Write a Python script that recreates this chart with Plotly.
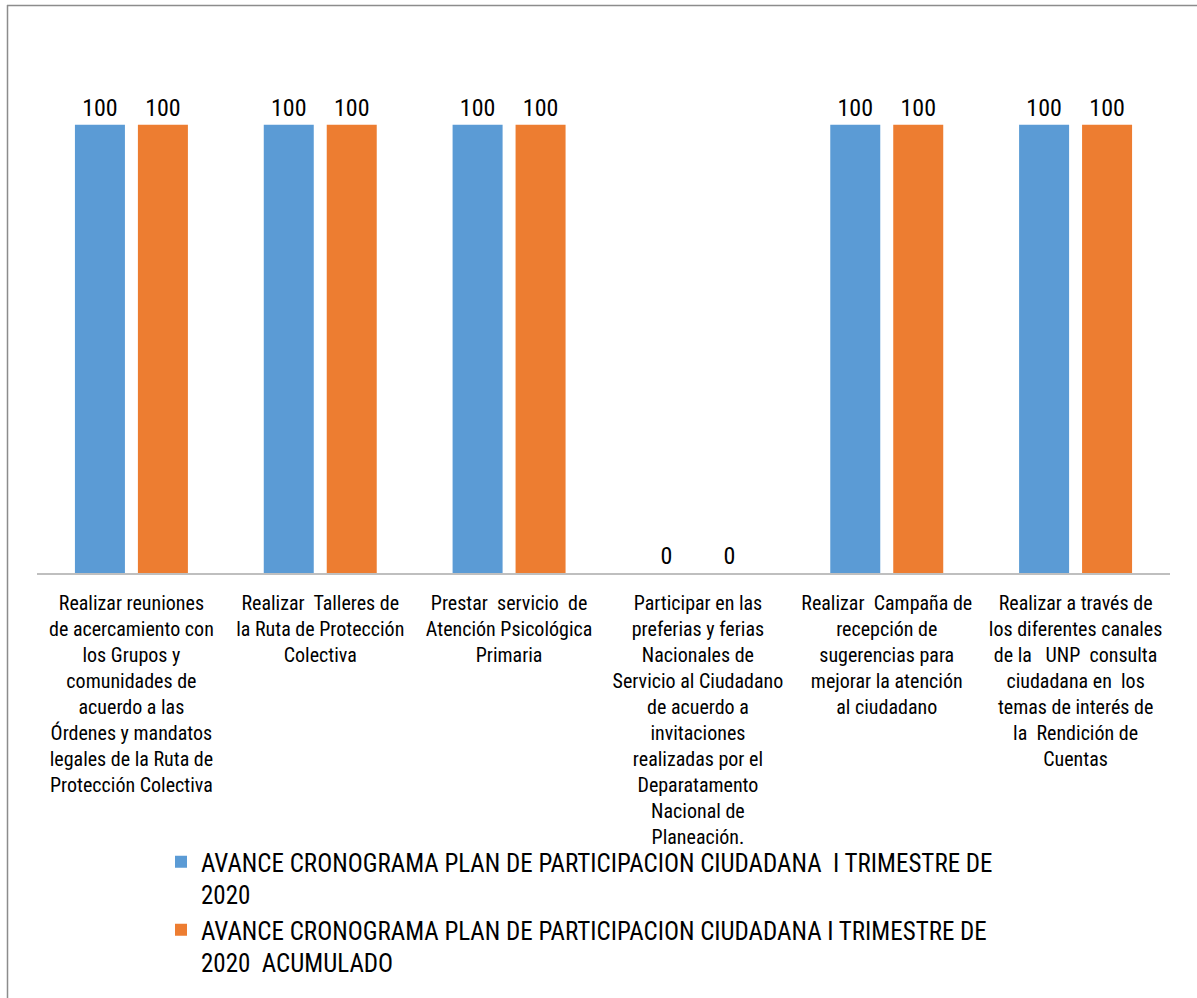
import plotly.graph_objects as go

categories = [
    "Realizar reuniones<br>de acercamiento con<br>los Grupos y<br>comunidades de<br>acuerdo a las<br>Órdenes y mandatos<br>legales de la Ruta de<br>Protección Colectiva",
    "Realizar  Talleres de<br>la Ruta de Protección<br>Colectiva",
    "Prestar  servicio  de<br>Atención Psicológica<br>Primaria",
    "Participar en las<br>preferias y ferias<br>Nacionales de<br>Servicio al Ciudadano<br>de acuerdo a<br>invitaciones<br>realizadas por el<br>Deparatamento<br>Nacional de<br>Planeación.",
    "Realizar  Campaña de<br>recepción de<br>sugerencias para<br>mejorar la atención<br>al ciudadano",
    "Realizar a través de<br>los diferentes canales<br>de la   UNP  consulta<br>ciudadana en  los<br>temas de interés de<br>la  Rendición de<br>Cuentas",
]
serie_trimestre = [100, 100, 100, 0, 100, 100]
serie_acumulado = [100, 100, 100, 0, 100, 100]
series_names = [
    "AVANCE CRONOGRAMA PLAN DE PARTICIPACION CIUDADANA  I TRIMESTRE DE<br>2020",
    "AVANCE CRONOGRAMA PLAN DE PARTICIPACION CIUDADANA I TRIMESTRE DE<br>2020  ACUMULADO",
]
colors = ["#5B9BD5", "#ED7D31"]

FONT = "Roboto Condensed, Liberation Sans Narrow, Arial Narrow, sans-serif"

W, H = 1197, 998
ML, MR, MT = 37, 27, 35
AXIS_Y = 573
MB = H - AXIS_Y
PH = AXIS_Y - MT
PW = W - ML - MR

def px_x(p):
    return (p - ML) / PW

def px_y(p):
    return (AXIS_Y - p) / PH

fig = go.Figure()
for vals, name, col in zip([serie_trimestre, serie_acumulado], series_names, colors):
    fig.add_trace(go.Bar(
        x=list(range(len(categories))), y=vals, name=name,
        marker=dict(color=col, line=dict(width=0)),
        text=[str(v) for v in vals], textposition="outside",
        textfont=dict(family=FONT, size=24, color="#000000"),
        cliponaxis=False, hoverinfo="skip",
    ))

fig.update_layout(
    width=W, height=H,
    margin=dict(l=ML, r=MR, t=MT, b=MB, autoexpand=False),
    paper_bgcolor="white", plot_bgcolor="white",
    barmode="group", bargap=0.333, bargroupgap=0.206,
    font=dict(family=FONT, color="#000000"),
    xaxis=dict(
        tickmode="array", tickvals=list(range(len(categories))), ticktext=categories,
        tickangle=0, showline=True, linecolor="#BFBFBF", linewidth=1.5,
        showgrid=False, zeroline=False, ticks="", tickfont=dict(size=20, color="#000000"),
        ticklabelstandoff=11,
        range=[-0.5, len(categories) - 0.5],
    ),
    yaxis=dict(range=[0, 120], visible=False, showgrid=False, zeroline=False),
    showlegend=True,
    legend=dict(
        orientation="v", x=px_x(161), xanchor="left", y=px_y(839), yanchor="top",
        font=dict(size=25, color="#000000"), valign="top", traceorder="normal",
        bgcolor="rgba(0,0,0,0)", tracegroupgap=0,
    ),
    shapes=[
        dict(type="line", xref="paper", yref="paper", x0=px_x(7), x1=px_x(W + 5), y0=px_y(5.5), y1=px_y(5.5),
             line=dict(color="#8C8C8C", width=1.5)),
        dict(type="line", xref="paper", yref="paper", x0=px_x(7.5), x1=px_x(7.5), y0=px_y(5), y1=px_y(H + 5),
             line=dict(color="#8C8C8C", width=1.5)),
    ],
)

fig.write_html(
    "out.html",
    config={"displayModeBar": False},
    post_script="document.body.style.margin='0';document.body.style.overflow='hidden';",
)
